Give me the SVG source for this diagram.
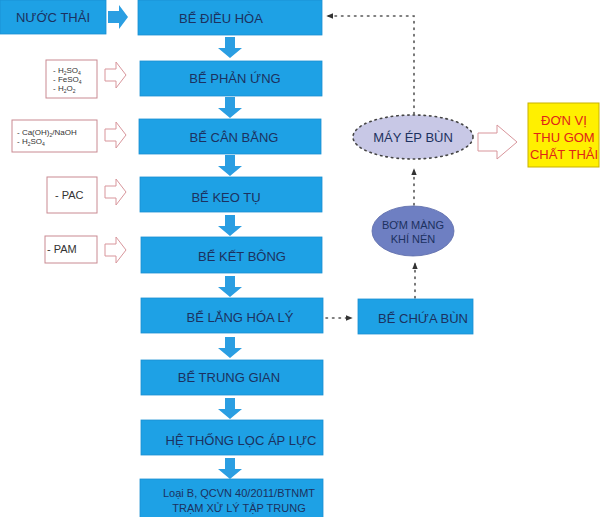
<svg xmlns="http://www.w3.org/2000/svg" width="600" height="517" viewBox="0 0 600 517">
<defs>
<style>
.box{fill:#1ea1e5;stroke:#1990d2;stroke-width:0.8}
.t{font-family:"Liberation Sans",Arial,sans-serif;font-size:13px;fill:#1c3160;text-anchor:middle}
.ts{font-family:"Liberation Sans",Arial,sans-serif;font-size:11px;fill:#1c3160;text-anchor:middle}
.chem{fill:#fff;stroke:#c98a92;stroke-width:1}
.ct{font-family:"Liberation Sans",Arial,sans-serif;font-size:8px;fill:#333}
.ct2{font-family:"Liberation Sans",Arial,sans-serif;font-size:11px;fill:#333}
.sub{font-size:5px}
.darr{fill:#2a9ee2}
.harr{fill:#fff;stroke:#d8959b;stroke-width:1}
.dot{fill:none;stroke:#555;stroke-width:1.6;stroke-dasharray:1.5 5;stroke-linecap:round}
.red{font-family:"Liberation Sans",Arial,sans-serif;font-size:13px;fill:#e02418;text-anchor:middle}
</style>
<marker id="ah" viewBox="0 0 10 10" refX="9" refY="5" markerWidth="7" markerHeight="7" markerUnits="userSpaceOnUse" orient="auto">
<path d="M0,1 L10,5 L0,9 Z" fill="#333"/>
</marker>
<path id="down" d="M-5,0 H5 V11 H12 L0,21 L-12,11 H-5 Z"/>
<path id="hol" d="M0,-6 H11 V-13 L21,0 L11,13 V6 H0 Z"/>
</defs>

<g id="connectors">
<path class="darr" d="M108,11 H119 V5 L128,17 L119,29 V23 H108 Z"/>
<use href="#down" class="darr" x="230" y="37"/>
<use href="#down" class="darr" x="230" y="97"/>
<use href="#down" class="darr" x="230" y="155"/>
<use href="#down" class="darr" x="230" y="215"/>
<use href="#down" class="darr" x="230" y="276"/>
<use href="#down" class="darr" x="230" y="337"/>
<use href="#down" class="darr" x="230" y="398"/>
<use href="#down" class="darr" x="230" y="458"/>
<use href="#hol" class="harr" x="105" y="75"/>
<use href="#hol" class="harr" x="105" y="135"/>
<use href="#hol" class="harr" x="105" y="192"/>
<use href="#hol" class="harr" x="105" y="250"/>
<path d="M478,133 H497 V125 L517,142 L497,159 V151 H478 Z" class="harr"/>
<path class="dot" d="M326,318 H352" marker-end="url(#ah)"/>
<path class="dot" d="M415,298 V263" marker-end="url(#ah)"/>
<path class="dot" d="M414,205 V169" marker-end="url(#ah)"/>
<path class="dot" d="M414,114 V16 H327" marker-end="url(#ah)"/>
</g>

<g id="nuoc-thai"><rect class="box" x="0" y="0" width="106" height="34"/><text class="t" x="53" y="22">NƯỚC THẢI</text></g>
<g id="be-dieu-hoa"><rect class="box" x="138" y="0" width="184" height="35"/><text class="t" x="221" y="23">BỂ ĐIỀU HÒA</text></g>
<g id="be-phan-ung"><rect class="box" x="140" y="61" width="182" height="35"/><text class="t" x="235" y="83">BỂ PHẢN ỨNG</text></g>
<g id="be-can-bang"><rect class="box" x="139" y="119" width="182" height="35"/><text class="t" x="234" y="142">BỂ CÂN BẰNG</text></g>
<g id="be-keo-tu"><rect class="box" x="140" y="177" width="182" height="35"/><text class="t" x="226" y="202">BỂ KEO TỤ</text></g>
<g id="be-ket-bong"><rect class="box" x="141" y="237" width="181" height="36"/><text class="t" x="242" y="261">BỂ KẾT BÔNG</text></g>
<g id="be-lang-hoa-ly"><rect class="box" x="141" y="298" width="182" height="35"/><text class="t" x="240" y="322">BỂ LẮNG HÓA LÝ</text></g>
<g id="be-trung-gian"><rect class="box" x="141" y="360" width="182" height="35"/><text class="t" x="229" y="382">BỂ TRUNG GIAN</text></g>
<g id="he-thong-loc"><rect class="box" x="141" y="420" width="182" height="35"/><text class="t" x="241" y="445">HỆ THỐNG LỌC ÁP LỰC</text></g>
<g id="tram-xu-ly"><rect class="box" x="140" y="479" width="183" height="40"/><text class="ts" x="239" y="497">Loại B, QCVN 40/2011/BTNMT</text><text class="ts" x="239" y="512">TRẠM XỬ LÝ TẬP TRUNG</text></g>

<g id="chem-1"><rect class="chem" x="46" y="60" width="51" height="38"/>
<text class="ct" x="53" y="73">- H<tspan class="sub" dy="1.5">2</tspan><tspan dy="-1.5">SO</tspan><tspan class="sub" dy="1.5">4</tspan></text>
<text class="ct" x="53" y="82">- FeSO<tspan class="sub" dy="1.5">4</tspan></text>
<text class="ct" x="53" y="91">- H<tspan class="sub" dy="1.5">2</tspan><tspan dy="-1.5">O</tspan><tspan class="sub" dy="1.5">2</tspan></text></g>
<g id="chem-2"><rect class="chem" x="12" y="120" width="85" height="32"/>
<text class="ct" x="17" y="135">- Ca(OH)<tspan class="sub" dy="1.5">2</tspan><tspan dy="-1.5">/NaOH</tspan></text>
<text class="ct" x="17" y="144">- H<tspan class="sub" dy="1.5">2</tspan><tspan dy="-1.5">SO</tspan><tspan class="sub" dy="1.5">4</tspan></text></g>
<g id="chem-3"><rect class="chem" x="47" y="177" width="50" height="36"/><text class="ct2" x="55" y="199">- PAC</text></g>
<g id="chem-4"><rect class="chem" x="45" y="236" width="52" height="27"/><text class="ct2" x="47" y="253">- PAM</text></g>

<g id="be-chua-bun"><rect class="box" x="358" y="299" width="115" height="35"/><text class="t" x="423" y="323">BỂ CHỨA BÙN</text></g>
<g id="bom-mang"><ellipse cx="413" cy="231" rx="41" ry="25" fill="#6e7fc2" stroke="#5a6aa8" stroke-width="0.8"/>
<text class="ts" x="413" y="229" font-size="10.5">BƠM MÀNG</text><text class="ts" x="413" y="243" font-size="10.5">KHÍ NÉN</text></g>
<g id="may-ep-bun"><ellipse cx="413" cy="137" rx="60" ry="22" fill="#c8c8e6" stroke="#444" stroke-width="1.6" stroke-dasharray="1.5 4" stroke-linecap="round"/>
<text class="t" x="413" y="142">MÁY ÉP BÙN</text></g>
<g id="don-vi-thu-gom"><rect x="528" y="103" width="71" height="64" fill="#fff000" stroke="#c9b200" stroke-width="1"/>
<text class="red" x="564" y="125">ĐƠN VỊ</text><text class="red" x="564" y="142">THU GOM</text><text class="red" x="564" y="159">CHẤT THẢI</text></g>
</svg>
